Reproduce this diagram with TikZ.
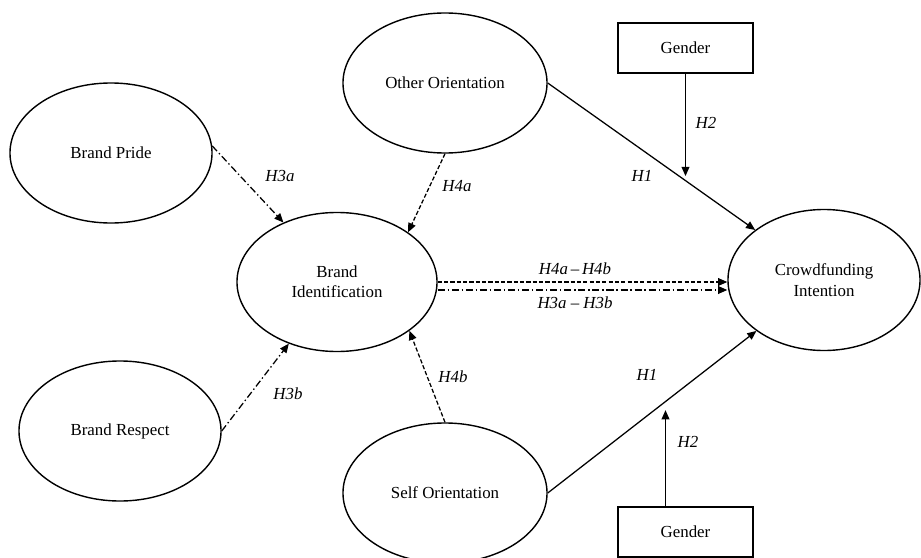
\documentclass[tikz,border=0pt]{standalone}
\usepackage{fontspec}
\setmainfont{Liberation Serif}
\usetikzlibrary{arrows.meta,shapes.geometric}

\tikzset{
	latent/.style={draw, ellipse, line width=1pt, inner sep=0pt, minimum width=5.05cm, minimum height=3.5cm, align=center, font=\fontsize{12}{14.5}\selectfont},
	observed/.style={draw, rectangle, line width=1pt, minimum width=3.375cm, minimum height=1.25cm, font=\fontsize{12}{14.5}\selectfont},
	hyp/.style={font=\fontsize{12}{14.5}\selectfont\itshape},
	path/.style={line width=0.9pt, -{Triangle[length=6.5pt,width=5.5pt]}},
	dashdot/.style={path, dash pattern=on 5pt off 2pt on 1pt off 2pt},
	dashline/.style={path, dash pattern=on 3pt off 1.5pt}
}

\begin{document}
\begin{tikzpicture}[x=0.025cm, y=-0.025cm]
		%%%%% START %%%%%
		\useasboundingbox (0, 0) rectangle (921, 558);
		
		\node[latent] (pride) at (111, 153) {Brand Pride};
		\node[latent] (respect) at (120, 431) {Brand Respect};
		\node[latent, minimum width=5.1cm] (other) at (445, 83) {Other Orientation};
		\node[latent, minimum width=5.0cm, minimum height=3.475cm] (ident) at (337, 282) {Brand\\Identification};
		\node[latent, minimum width=5.1cm] (self) at (445, 493) {Self Orientation};
		\node[latent, minimum width=4.8cm, minimum height=3.525cm] (crowd) at (824, 280) {Crowdfunding\\Intention};
		
		\node[observed] (gtop) at (685.5, 48) {Gender};
		\node[observed] (gbot) at (685.5, 532) {Gender};
		
		\draw[dashdot] (pride.4) -- (ident.132);
		\draw[dashdot] (respect.0) -- (ident.-128);
		\draw[dashline] (other.-90) -- (ident.35);
		\draw[dashline] (self.90) -- (ident.-34);
		
		\draw[dashline] (ident.east) -- (ident.east -| crowd.west);
		\draw[dashdot] ([yshift=-0.2cm]ident.east) -- ([yshift=-0.2cm]ident.east -| crowd.west);
		
		\draw[path] (other.0) -- (crowd.144) coordinate[pos=0.662] (m1);
		\draw[path] (self.0) -- (crowd.-143) coordinate[pos=0.572] (m2);
		
		\draw[path, shorten >=3pt] (gtop.south) -- (gtop.south |- m1);
		\draw[path, shorten >=7pt] ([xshift=-0.5cm]gbot.north) -- ([xshift=-0.5cm]gbot.north |- m2);
		
		\node[hyp] (h3a) at (280, 176) {H3a};
		\node[hyp] (h3b) at (288, 394) {H3b};
		\node[hyp] (h4a) at (457, 186) {H4a};
		\node[hyp] (h4b) at (453, 377) {H4b};
		\node[hyp] (h1t) at (642, 176) {H1};
		\node[hyp] (h2t) at (706, 123) {H2};
		\node[hyp] (h1b) at (647, 375) {H1};
		\node[hyp] (h2b) at (688, 442) {H2};
		\node[hyp] (h4ab) at (575, 269) {H4a\,--\,H4b};
		\node[hyp] (h3ab) at (575, 303) {H3a -- H3b};
		
		%%%%% END %%%%%
	\end{tikzpicture}
\end{document}
